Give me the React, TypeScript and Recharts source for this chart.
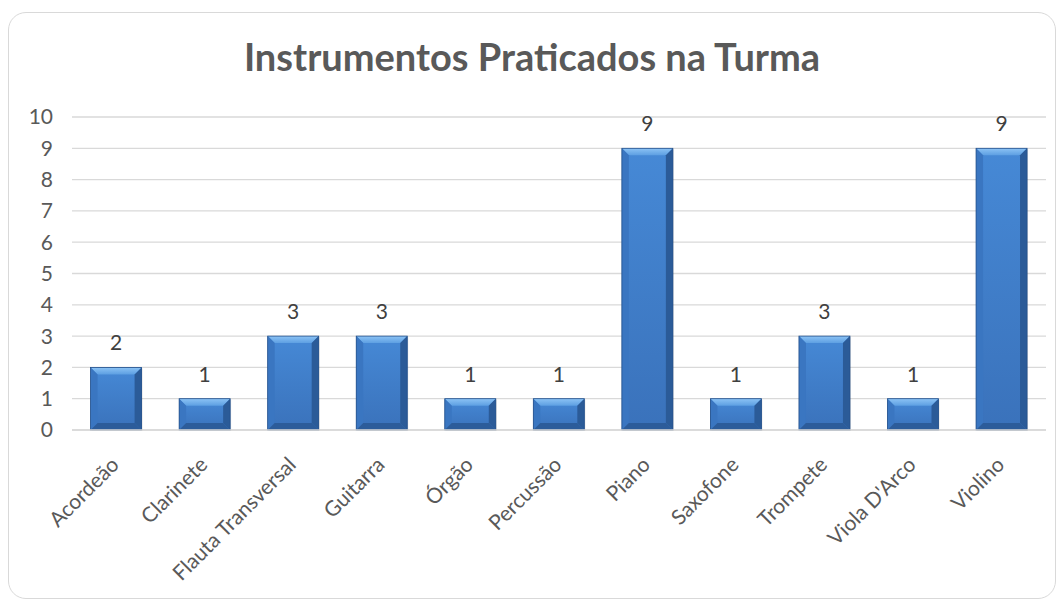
import React from "react";
import { BarChart, Bar, XAxis, YAxis, CartesianGrid, LabelList } from "recharts";

const categories = ["Acordeão", "Clarinete", "Flauta Transversal", "Guitarra", "Órgão", "Percussão", "Piano", "Saxofone", "Trompete", "Viola D'Arco", "Violino"];
const counts = [2, 1, 3, 3, 1, 1, 9, 1, 3, 1, 9];
const yTicks = [0, 1, 2, 3, 4, 5, 6, 7, 8, 9, 10];
const title = "Instrumentos Praticados na Turma";

const data = categories.map((name, i) => ({ name, value: counts[i] }));

const FONT = "Lato, 'Open Sans', sans-serif";

const BevelBar = (props: any) => {
  const { x, y, width, height } = props;
  if (!height || height <= 0) return null;
  const b = Math.min(7, height / 2, width / 2);
  return (
    <g>
      <rect x={x + 1} y={y + 1} width={width} height={height} fill="rgba(0,0,0,0.12)" />
      <rect x={x} y={y} width={width} height={height} fill="url(#barMain)" />
      <polygon points={`${x},${y} ${x + width},${y} ${x + width - b},${y + b} ${x + b},${y + b}`} fill="url(#barTop)" />
      <polygon points={`${x},${y} ${x + b},${y + b} ${x + b},${y + height - b} ${x},${y + height}`} fill="#3a76c1" />
      <polygon points={`${x + width},${y} ${x + width - b},${y + b} ${x + width - b},${y + height - b} ${x + width},${y + height}`} fill="#2b5b98" />
      <polygon points={`${x},${y + height} ${x + b},${y + height - b} ${x + width - b},${y + height - b} ${x + width},${y + height}`} fill="#2c5c9a" />
      <rect x={x} y={y} width={width} height={height} fill="none" stroke="#24508a" strokeWidth={0.8} />
    </g>
  );
};

const XTick = (props: any) => {
  const { x, y, payload } = props;
  return (
    <g transform={`translate(${x + 4},${y + 28})`}>
      <text transform="rotate(-45)" textAnchor="end" fill="#595959" fontSize={21} fontFamily={FONT}>
        {payload.value}
      </text>
    </g>
  );
};

export default function App() {
  return (
    <div
      style={{
        marginTop: 4,
        width: 1046,
        height: 585,
        border: "1px solid #d9d9d9",
        borderRadius: 18,
        position: "relative",
        background: "#fff",
      }}
    >
      <div
        style={{
          position: "absolute",
          top: 21,
          left: 0,
          width: "100%",
          textAlign: "center",
          fontFamily: FONT,
          fontWeight: 700,
          fontSize: 38,
          lineHeight: 1.2,
          color: "#595959",
        }}
      >
        {title}
      </div>
      <BarChart
        width={1046}
        height={585}
        data={data}
        margin={{ top: 104, right: 9, left: 0, bottom: 0 }}
        barCategoryGap="21%"
      >
        <defs>
          <linearGradient id="barMain" x1="0" y1="0" x2="0" y2="1">
            <stop offset="0" stopColor="#4689d6" />
            <stop offset="1" stopColor="#3a72bb" />
          </linearGradient>
          <linearGradient id="barTop" x1="0" y1="0" x2="0" y2="1">
            <stop offset="0" stopColor="#8cc3f5" />
            <stop offset="1" stopColor="#5d9fe2" />
          </linearGradient>
        </defs>
        <CartesianGrid vertical={false} stroke="#d9d9d9" strokeWidth={1.3} />
        <XAxis
          dataKey="name"
          interval={0}
          height={168}
          tickLine={false}
          axisLine={{ stroke: "#d9d9d9", strokeWidth: 1.3 }}
          tick={<XTick />}
        />
        <YAxis
          width={63}
          domain={[0, 10]}
          ticks={yTicks}
          interval={0}
          axisLine={false}
          tickLine={false}
          tickMargin={13}
          tick={{ fill: "#595959", fontSize: 21, fontFamily: FONT }}
        />
        <Bar dataKey="value" isAnimationActive={false} shape={<BevelBar />}>
          <LabelList dataKey="value" position="top" offset={17} fill="#404040" fontSize={21} fontFamily={FONT} />
        </Bar>
      </BarChart>
    </div>
  );
}
